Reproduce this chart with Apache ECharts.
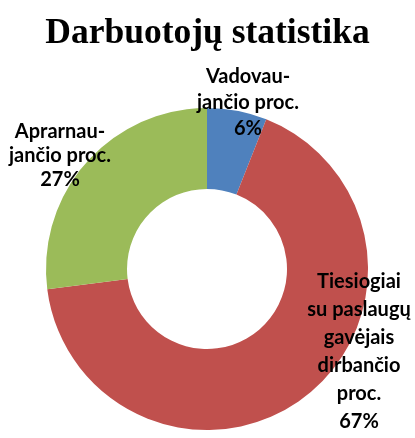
<!DOCTYPE html>
<html>
<head>
<meta charset="utf-8">
<script src="https://cdn.jsdelivr.net/npm/echarts@6/dist/echarts.min.js"></script>
<style>
  html, body { margin: 0; padding: 0; background: #fff; }
  #chart { width: 415px; height: 438px; }
</style>
</head>
<body>
<div id="chart"></div>
<script>
  // chart data
  const categories = [
    'Vadovau-\njančio proc.',
    'Tiesiogiai\nsu paslaugų\ngavėjais\ndirbančio\nproc.',
    'Aprarnau-\njančio proc.'
  ];
  const values = [6, 67, 27];
  const colors = ['#4F81BD', '#C0504D', '#9BBB59'];

  // where each label block sits (centre of the text block)
  const labelSpots = [
    { x: 248, y: 103, lh: 26 },
    { x: 359, y: 352, lh: 28 },
    { x: 60, y: 156, lh: 24 }
  ];

  const chart = echarts.init(document.getElementById('chart'));

  const option = {
    animation: false,
    title: {
      text: 'Darbuotojų statistika',
      left: 'center',
      top: 11,
      textStyle: {
        fontFamily: 'Liberation Serif',
        fontWeight: 'bold',
        fontSize: 35.5,
        color: '#000'
      }
    },
    series: [{
      type: 'pie',
      center: [207, 269],
      radius: [80, 161],
      startAngle: 90,
      clockwise: true,
      avoidLabelOverlap: false,
      itemStyle: { borderWidth: 0 },
      emphasis: { disabled: true },
      label: {
        show: true,
        position: 'outside',
        formatter: '{b}\n{c}%',
        fontFamily: 'Lato',
        fontWeight: 'bold',
        fontSize: 20,
        color: '#000',
        align: 'center'
      },
      labelLine: { show: false },
      labelLayout: function (params) {
        const s = labelSpots[params.dataIndex];
        return { x: s.x, y: s.y, align: 'center', verticalAlign: 'middle' };
      },
      data: categories.map((name, i) => ({
        name: name,
        value: values[i],
        itemStyle: { color: colors[i] },
        label: { lineHeight: labelSpots[i].lh }
      }))
    }]
  };

  chart.setOption(option);
</script>
</body>
</html>
